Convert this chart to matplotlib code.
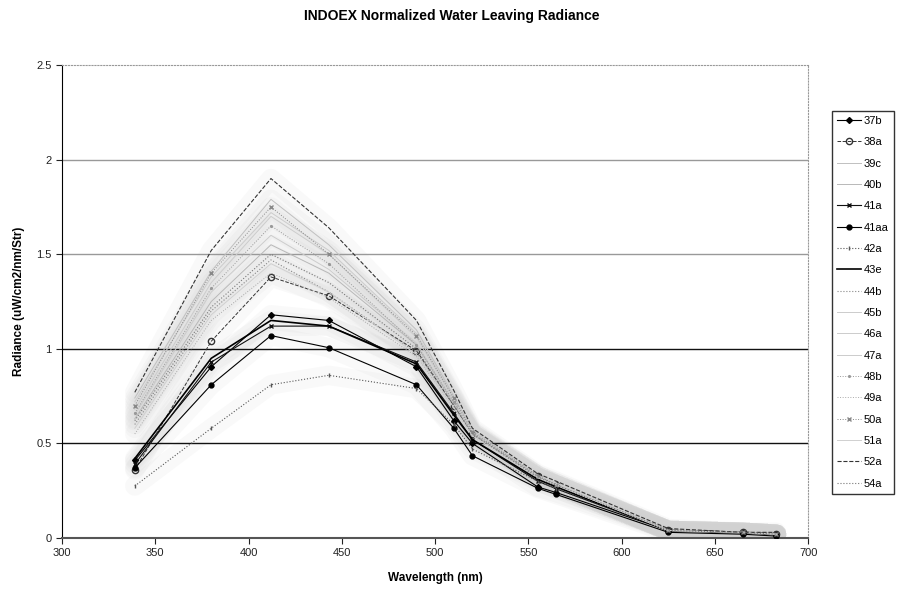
import matplotlib
matplotlib.use("Agg")
import matplotlib.pyplot as plt

plt.rcParams['font.family'] = ['Liberation Sans', 'DejaVu Sans']

# wavelengths (nm)
wavelength = [339, 380, 412, 443, 490, 510, 520, 555, 565, 625, 665, 683]

# station names in legend order
stations = ["37b", "38a", "39c", "40b", "41a", "41aa", "42a", "43e", "44b",
            "45b", "46a", "47a", "48b", "49a", "50a", "51a", "52a", "54a"]

r37b = [0.41, 0.905, 1.18, 1.15, 0.905, 0.62, 0.50, 0.27, 0.24, 0.04, 0.03, 0.02]
r38a = [0.36, 1.04, 1.38, 1.28, 0.99, 0.70, 0.55, 0.33, 0.28, 0.04, 0.03, 0.02]
r39c = [0.74, 1.41, 1.79, 1.55, 1.10, 0.75, 0.57, 0.33, 0.29, 0.04, 0.03, 0.02]
r40b = [0.63, 1.25, 1.55, 1.40, 1.02, 0.71, 0.55, 0.32, 0.28, 0.04, 0.03, 0.02]
r41a = [0.39, 0.93, 1.12, 1.12, 0.93, 0.66, 0.52, 0.30, 0.26, 0.04, 0.03, 0.02]
r41aa = [0.37, 0.81, 1.07, 1.006, 0.81, 0.58, 0.435, 0.263, 0.23, 0.03, 0.02, 0.01]
r42a = [0.275, 0.58, 0.81, 0.86, 0.79, 0.60, 0.47, 0.30, 0.26, 0.04, 0.03, 0.02]
r43e = [0.42, 0.95, 1.15, 1.12, 0.92, 0.65, 0.52, 0.31, 0.27, 0.04, 0.03, 0.02]
r44b = [0.60, 1.20, 1.47, 1.30, 0.98, 0.70, 0.55, 0.32, 0.28, 0.04, 0.03, 0.02]
r45b = [0.68, 1.35, 1.70, 1.50, 1.06, 0.73, 0.56, 0.33, 0.29, 0.04, 0.03, 0.02]
r46a = [0.65, 1.30, 1.60, 1.42, 1.03, 0.72, 0.55, 0.32, 0.28, 0.04, 0.03, 0.02]
r47a = [0.72, 1.38, 1.72, 1.52, 1.08, 0.74, 0.56, 0.33, 0.29, 0.04, 0.03, 0.02]
r48b = [0.66, 1.32, 1.65, 1.45, 1.02, 0.72, 0.55, 0.32, 0.28, 0.04, 0.03, 0.02]
r49a = [0.55, 1.15, 1.40, 1.27, 0.96, 0.69, 0.54, 0.32, 0.28, 0.04, 0.03, 0.02]
r50a = [0.70, 1.40, 1.75, 1.50, 1.07, 0.74, 0.56, 0.33, 0.28, 0.04, 0.03, 0.02]
r51a = [0.58, 1.18, 1.45, 1.30, 0.97, 0.69, 0.54, 0.32, 0.28, 0.04, 0.03, 0.02]
r52a = [0.77, 1.52, 1.90, 1.64, 1.15, 0.78, 0.58, 0.34, 0.30, 0.05, 0.03, 0.03]
r54a = [0.62, 1.22, 1.50, 1.35, 1.00, 0.70, 0.55, 0.32, 0.28, 0.04, 0.03, 0.02]

radiance = [r37b, r38a, r39c, r40b, r41a, r41aa, r42a, r43e, r44b,
            r45b, r46a, r47a, r48b, r49a, r50a, r51a, r52a, r54a]

# (color, linestyle, marker, markersize, linewidth)
styles = [
    ("#000000", "-", "D", 3, 0.8),
    ("#333333", "--", "o", 4.5, 0.7),
    ("#c0c0c0", "-", "", 0, 0.7),
    ("#b8b8b8", "-", "", 0, 0.7),
    ("#111111", "-", "x", 3.5, 0.8),
    ("#000000", "-", "o", 3.5, 0.8),
    ("#555555", ":", "|", 3.5, 0.8),
    ("#000000", "-", "", 0, 1.2),
    ("#888888", ":", "", 0, 0.8),
    ("#cccccc", "-", "", 0, 0.7),
    ("#cccccc", "-", "", 0, 0.7),
    ("#cccccc", "-", "", 0, 0.7),
    ("#999999", ":", ".", 2.5, 0.7),
    ("#aaaaaa", ":", "", 0, 0.7),
    ("#888888", ":", "x", 3, 0.7),
    ("#d0d0d0", "-", "", 0, 0.7),
    ("#333333", "--", "", 0, 0.8),
    ("#777777", ":", "", 0, 0.8),
]

fig = plt.figure(figsize=(8.99, 5.96), dpi=100)
ax = fig.add_axes([0.069, 0.0973, 0.830, 0.7936])

# soft grey halo that the original rendering shows around the lines
for vals in radiance:
    ax.plot(wavelength, vals, color="#d0d0d0", lw=14, alpha=0.12,
            solid_capstyle="round", zorder=1)

for name, vals, (c, ls, mk, ms, lw) in zip(stations, radiance, styles):
    face = "none" if name == "38a" else c
    ax.plot(wavelength, vals, color=c, ls=ls, lw=lw, marker=mk if mk else None,
            ms=ms, mfc=face, mec=c, mew=1, label=name, zorder=3)

ax.set_xlim(300, 700)
ax.set_ylim(0, 2.5)
ax.set_xticks(range(300, 701, 50))
ax.set_yticks([0, 0.5, 1, 1.5, 2, 2.5])
ax.set_yticklabels(["0", "0.5", "1", "1.5", "2", "2.5"])

for yv, gc in [(0.5, "#111111"), (1.0, "#111111"), (1.5, "#999999"), (2.0, "#999999")]:
    ax.axhline(yv, color=gc, lw=1, zorder=2)

ax.spines["top"].set_color("#999999")
ax.spines["top"].set_linestyle(":")
ax.spines["right"].set_color("#999999")
ax.spines["right"].set_linestyle(":")
ax.spines["left"].set_color("#000000")
ax.spines["bottom"].set_color("#555555")
ax.spines["bottom"].set_linewidth(1.5)
ax.tick_params(labelsize=8, length=4, direction="out", colors="#222222")

ax.set_xlabel("Wavelength (nm)", fontsize=8.5, fontweight="bold", labelpad=10)
ax.set_ylabel("Radiance (uW/cm2/nm/Str)", fontsize=8.5, fontweight="bold", labelpad=8)
fig.suptitle("INDOEX Normalized Water Leaving Radiance", fontsize=10,
             fontweight="bold", x=0.503, y=0.985)

leg = fig.legend(loc="upper right", bbox_to_anchor=(0.994, 0.814), fontsize=8,
                 frameon=True, fancybox=False, borderpad=0.45, labelspacing=1.02,
                 handlelength=2.2, handletextpad=0.25, borderaxespad=0)
leg.get_frame().set_edgecolor("#000000")
leg.get_frame().set_linewidth(1)

fig.savefig("out.png", dpi=100)
